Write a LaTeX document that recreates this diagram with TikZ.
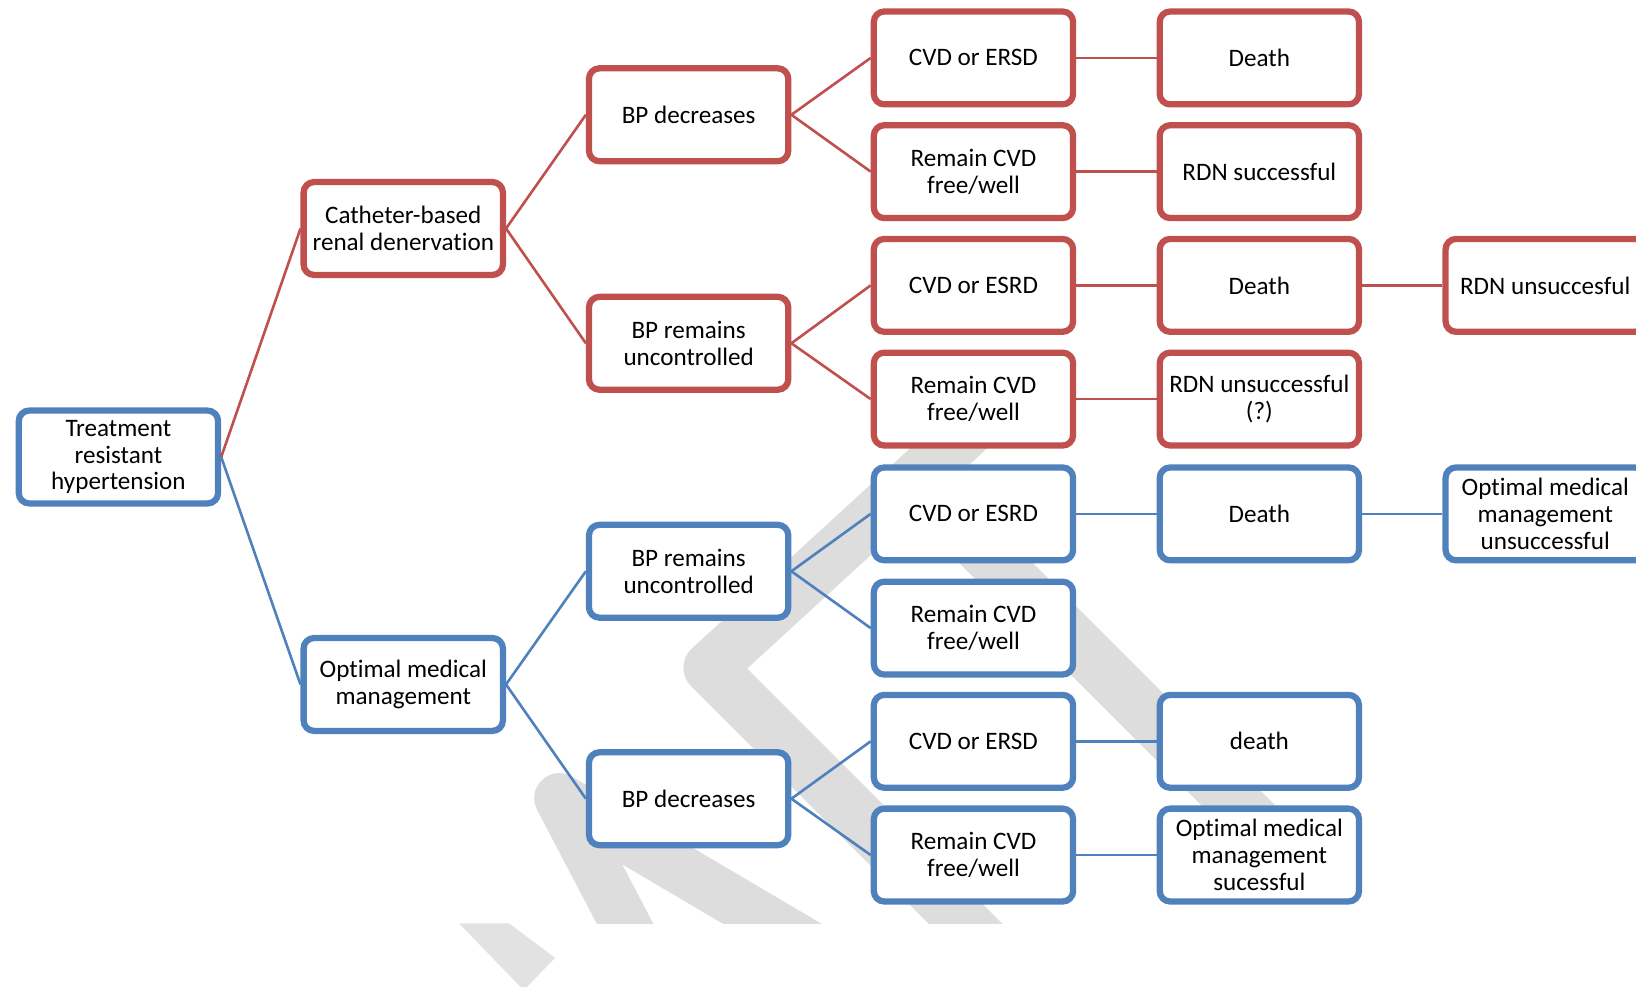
\documentclass[tikz,border=0pt]{standalone}
\usepackage{fontspec}
\setmainfont[Ligatures={NoCommon}]{Carlito}
\usetikzlibrary{positioning}

\definecolor{rdnred}{RGB}{192,80,77}
\definecolor{ommblue}{RGB}{79,129,189}
\definecolor{wmgray}{RGB}{221,221,221}

\begin{document}
\begin{tikzpicture}[x=0.2mm,y=-0.2mm,node distance=15.4mm,
  box/.style={draw,fill=white,rounded corners=2mm,line width=1.2mm,align=center,
    minimum width=38.2mm,minimum height=17.8mm,inner sep=1pt,
    font=\fontsize{13.7}{14.7}\selectfont},
  redbox/.style={box,draw=rdnred},
  bluebox/.style={box,draw=ommblue},
  redline/.style={draw=rdnred,line width=0.5mm},
  blueline/.style={draw=ommblue,line width=0.5mm},
  wm/.style={draw=wmgray,line width=10mm,line join=round}]
\clip (0,0) rectangle (1568,946);

% watermark in the background
\begin{scope}
\clip (0,0) rectangle (1568,885);
\draw[wm] (985,360) -- (680,640) -- (960,920);
\draw[wm] (890,475) -- (1215,800);
\draw[wm,line width=9.6mm,line cap=round] (612,910) -- (536,765) -- (782,910);
\end{scope}
\fill[wmgray!85] (440,885) -- (488,885) -- (532,918) -- (505,946) -- (499,946) -- cycle;

% tree
\node[bluebox] (trh) at (113.5,438) {Treatment\\resistant\\hypertension};
\node[redbox] (cbrd) at (386.5,219) {Catheter-based\\renal denervation};
\node[bluebox] (omm) at (386.5,656) {Optimal medical\\management};

\node[redbox] (rdec) at (660,110) {BP decreases};
\node[redbox] (runc) at (660,329) {BP remains\\uncontrolled};
\node[bluebox] (bunc) at (660,547.5) {BP remains\\uncontrolled};
\node[bluebox] (bdec) at (660,765.5) {BP decreases};

\node[redbox] (rd1) at (933,55.5) {CVD or ERSD};
\node[redbox] (rd2) at (933,164.5) {Remain CVD\\free/well};
\node[redbox] (ru1) at (933,273.5) {CVD or ESRD};
\node[redbox] (ru2) at (933,382.5) {Remain CVD\\free/well};
\node[bluebox] (bu1) at (933,492.5) {CVD or ESRD};
\node[bluebox] (bu2) at (933,602) {Remain CVD\\free/well};
\node[bluebox] (bd1) at (933,710.5) {CVD or ERSD};
\node[bluebox] (bd2) at (933,819.5) {Remain CVD\\free/well};

\node[redbox,right=of rd1] (rd1o) {Death};
\node[redbox,right=of rd2] (rd2o) {RDN successful};
\node[redbox,right=of ru1] (ru1o) {Death};
\node[redbox,right=of ru2] (ru2o) {RDN unsuccessful\\(?)};
\node[bluebox,right=of bu1] (bu1o) {Death};
\node[bluebox,right=of bd1] (bd1o) {death};
\node[bluebox,right=of bd2] (bd2o) {Optimal medical\\management\\sucessful};

\node[redbox,right=of ru1o] (ru1f) {RDN unsuccesful};
\node[bluebox,right=of bu1o] (bu1f) {Optimal medical\\management\\unsuccessful};

\draw[redline] (trh.east) -- (cbrd.west);
\draw[blueline] (trh.east) -- (omm.west);
\draw[redline] (cbrd.east) -- (rdec.west);
\draw[redline] (cbrd.east) -- (runc.west);
\draw[blueline] (omm.east) -- (bunc.west);
\draw[blueline] (omm.east) -- (bdec.west);
\draw[redline] (rdec.east) -- (rd1.west);
\draw[redline] (rdec.east) -- (rd2.west);
\draw[redline] (runc.east) -- (ru1.west);
\draw[redline] (runc.east) -- (ru2.west);
\draw[blueline] (bunc.east) -- (bu1.west);
\draw[blueline] (bunc.east) -- (bu2.west);
\draw[blueline] (bdec.east) -- (bd1.west);
\draw[blueline] (bdec.east) -- (bd2.west);
\draw[redline] (rd1) -- (rd1o);
\draw[redline] (rd2) -- (rd2o);
\draw[redline] (ru1) -- (ru1o);
\draw[redline] (ru2) -- (ru2o);
\draw[redline] (ru1o) -- (ru1f);
\draw[blueline] (bu1) -- (bu1o);
\draw[blueline] (bu1o) -- (bu1f);
\draw[blueline] (bd1) -- (bd1o);
\draw[blueline] (bd2) -- (bd2o);
\end{tikzpicture}
\end{document}
